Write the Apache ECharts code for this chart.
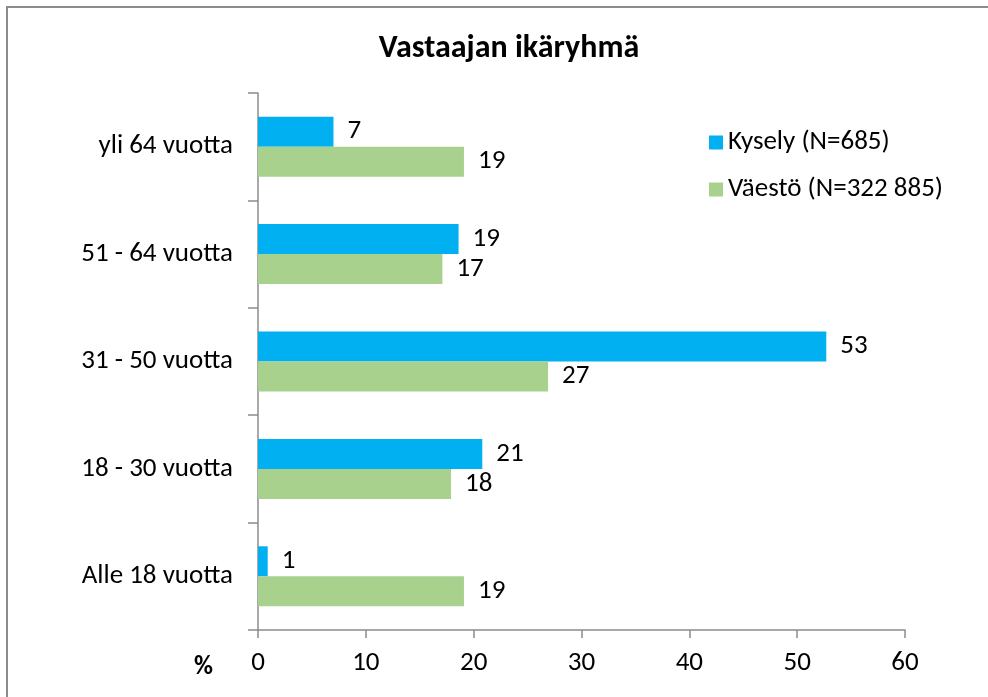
<!DOCTYPE html>
<html>
<head>
<meta charset="utf-8">
<script src="https://cdn.jsdelivr.net/npm/echarts@6/dist/echarts.min.js"></script>
<style>
  html, body { margin: 0; padding: 0; background: #fff; }
  #frame { position: absolute; left: 6px; top: 6px; width: 1100px; height: 800px; border-top: 2px solid #8c8c8c; border-left: 2px solid #8c8c8c; }
  #chart { position: absolute; left: 0; top: 0; width: 988px; height: 697px; }
</style>
</head>
<body>
<div id="frame"></div>
<div id="chart"></div>
<script>
// ikäryhmät ylhäältä alas
const categories = ['yli 64 vuotta', '51 - 64 vuotta', '31 - 50 vuotta', '18 - 30 vuotta', 'Alle 18 vuotta'];
const kysely = [7.0, 18.6, 52.7, 20.8, 0.9];
const vaesto = [19.1, 17.1, 26.9, 17.9, 19.1];
const seriesNames = ['Kysely (N=685)', 'Väestö (N=322 885)'];
const xTicks = { min: 0, max: 60, interval: 10 };

const font = 'Carlito, Lato, "Open Sans", sans-serif';

const chart = echarts.init(document.getElementById('chart'));

const labelOpt = {
  show: true,
  position: 'right',
  distance: 14,
  color: '#000',
  fontSize: 27,
  fontFamily: font,
  formatter: p => Math.round(p.value)
};

chart.setOption({
  animation: false,
  title: {
    text: 'Vastaajan ikäryhmä',
    left: 504,
    textAlign: 'center',
    top: 28,
    textStyle: { fontSize: 32, fontWeight: 'bold', color: '#000', fontFamily: font }
  },
  legend: {
    orient: 'vertical',
    left: 704,
    top: 124,
    itemWidth: 14,
    itemHeight: 14,
    itemGap: 20,
    icon: 'rect',
    data: seriesNames,
    textStyle: { fontSize: 27, color: '#000', fontFamily: font }
  },
  grid: { left: 258, right: 83, top: 93, bottom: 67 },
  xAxis: {
    type: 'value',
    min: xTicks.min,
    max: xTicks.max,
    interval: xTicks.interval,
    splitLine: { show: false },
    axisLine: { show: true, lineStyle: { color: '#8c8c8c', width: 1.5 } },
    axisTick: { show: true, length: 8, lineStyle: { color: '#8c8c8c', width: 1.5 } },
    axisLabel: { margin: 20, fontSize: 27, color: '#000', fontFamily: font }
  },
  yAxis: {
    type: 'category',
    inverse: true,
    data: categories,
    axisLine: { show: true, lineStyle: { color: '#8c8c8c', width: 1.5 } },
    axisTick: { show: true, length: 10, lineStyle: { color: '#8c8c8c', width: 1.5 } },
    axisLabel: { margin: 25, fontSize: 27, color: '#000', fontFamily: font }
  },
  graphic: [{
    type: 'text',
    left: 194,
    top: 654,
    style: { text: '%', fontSize: 26, fontWeight: 'bold', fill: '#000', fontFamily: font }
  }],
  series: [
    {
      name: seriesNames[0],
      type: 'bar',
      data: kysely,
      barWidth: 30,
      barGap: '0%',
      itemStyle: { color: '#00b0f0' },
      label: labelOpt
    },
    {
      name: seriesNames[1],
      type: 'bar',
      data: vaesto,
      barWidth: 30,
      barGap: '0%',
      itemStyle: { color: '#a9d18e' },
      label: labelOpt
    }
  ]
});
</script>
</body>
</html>
